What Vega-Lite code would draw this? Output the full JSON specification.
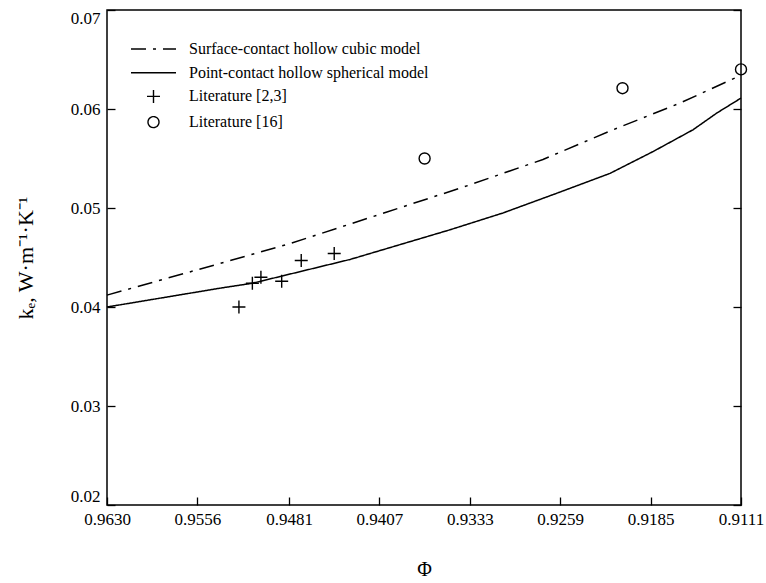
{
  "$schema": "https://vega.github.io/schema/vega-lite/v6.json",
  "width": 634,
  "height": 495,
  "autosize": {"type": "none"},
  "padding": {"left": 107, "top": 10, "right": 25, "bottom": 78},
  "background": "white",
  "config": {
    "font": "'Times New Roman', 'Liberation Serif', serif",
    "view": {"stroke": "black", "strokeWidth": 1.5},
    "axis": {
      "domain": false,
      "grid": false,
      "labelFont": "'Times New Roman', 'Liberation Serif', serif",
      "labelFontSize": 17,
      "labelColor": "black",
      "tickColor": "black",
      "tickWidth": 1.3,
      "titleFont": "'Times New Roman', 'Liberation Serif', serif",
      "titleFontWeight": "normal",
      "titleColor": "black",
      "titleFontSize": 20
    },
    "legend": {
      "title": null,
      "orient": "none",
      "legendX": 35.5,
      "legendY": 28,
      "symbolSize": 400,
      "symbolFillColor": "transparent",
      "symbolStrokeColor": "black",
      "symbolStrokeWidth": 1.4,
      "labelFont": "'Times New Roman', 'Liberation Serif', serif",
      "labelFontSize": 16,
      "labelColor": "black",
      "labelOffset": 24.5,
      "labelLimit": 400,
      "rowPadding": 4.7,
      "padding": 0
    }
  },
  "datasets": {
    "lines": [
      {"phi": 0.9630, "k": 0.0412, "series": "Surface-contact hollow cubic model"},
      {"phi": 0.95375, "k": 0.0444, "series": "Surface-contact hollow cubic model"},
      {"phi": 0.94802, "k": 0.0464, "series": "Surface-contact hollow cubic model"},
      {"phi": 0.94008, "k": 0.0496, "series": "Surface-contact hollow cubic model"},
      {"phi": 0.93386, "k": 0.0521, "series": "Surface-contact hollow cubic model"},
      {"phi": 0.92731, "k": 0.0549, "series": "Surface-contact hollow cubic model"},
      {"phi": 0.92158, "k": 0.0579, "series": "Surface-contact hollow cubic model"},
      {"phi": 0.91609, "k": 0.0606, "series": "Surface-contact hollow cubic model"},
      {"phi": 0.9120, "k": 0.0629, "series": "Surface-contact hollow cubic model"},
      {"phi": 0.9111, "k": 0.0634, "series": "Surface-contact hollow cubic model"},
      {"phi": 0.9630, "k": 0.0400, "series": "Point-contact hollow spherical model"},
      {"phi": 0.95375, "k": 0.0419, "series": "Point-contact hollow spherical model"},
      {"phi": 0.9511, "k": 0.0424, "series": "Point-contact hollow spherical model"},
      {"phi": 0.94311, "k": 0.0448, "series": "Point-contact hollow spherical model"},
      {"phi": 0.93492, "k": 0.0478, "series": "Point-contact hollow spherical model"},
      {"phi": 0.93058, "k": 0.0495, "series": "Point-contact hollow spherical model"},
      {"phi": 0.92616, "k": 0.0515, "series": "Point-contact hollow spherical model"},
      {"phi": 0.92182, "k": 0.0535, "series": "Point-contact hollow spherical model"},
      {"phi": 0.9183, "k": 0.0557, "series": "Point-contact hollow spherical model"},
      {"phi": 0.91503, "k": 0.0579, "series": "Point-contact hollow spherical model"},
      {"phi": 0.91307, "k": 0.0596, "series": "Point-contact hollow spherical model"},
      {"phi": 0.9111, "k": 0.0611, "series": "Point-contact hollow spherical model"}
    ],
    "points": [
      {"phi": 0.9522, "k": 0.0400, "series": "Literature [2,3]"},
      {"phi": 0.9511, "k": 0.0424, "series": "Literature [2,3]"},
      {"phi": 0.9504, "k": 0.0430, "series": "Literature [2,3]"},
      {"phi": 0.9487, "k": 0.0426, "series": "Literature [2,3]"},
      {"phi": 0.9471, "k": 0.0447, "series": "Literature [2,3]"},
      {"phi": 0.9444, "k": 0.0454, "series": "Literature [2,3]"},
      {"phi": 0.9370, "k": 0.0550, "series": "Literature [16]"},
      {"phi": 0.9208, "k": 0.0621, "series": "Literature [16]"},
      {"phi": 0.9111, "k": 0.0640, "series": "Literature [16]"}
    ]
  },
  "layer": [
    {
      "data": {"name": "lines"},
      "mark": {"type": "line", "color": "black", "strokeWidth": 1.5},
      "encoding": {
        "x": {
          "field": "phi", "type": "quantitative",
          "scale": {"domain": [0.9111, 0.9630], "reverse": true, "nice": false, "zero": false},
          "axis": {
            "title": "Φ",
            "values": [0.9630, 0.9556, 0.9481, 0.9407, 0.9333, 0.9259, 0.9185, 0.9111],
            "format": ".4f",
            "tickSize": -8,
            "labelPadding": 14,
            "titlePadding": 32,
            "labelFlush": false
          }
        },
        "y": {
          "field": "k", "type": "quantitative",
          "scale": {"domain": [0.02, 0.07], "nice": false, "zero": false},
          "axis": {
            "title": "kₑ, W·m⁻¹·K⁻¹",
            "titleFontSize": 22,
            "values": [0.02, 0.03, 0.04, 0.05, 0.06, 0.07],
            "format": ".2f",
            "tickSize": -8,
            "labelPadding": 15,
            "titlePadding": 33,
            "labelFlush": true,
            "labelFlushOffset": 0
          }
        },
        "strokeDash": {
          "field": "series", "type": "nominal",
          "scale": {
            "domain": ["Surface-contact hollow cubic model", "Point-contact hollow spherical model", "Literature [2,3]", "Literature [16]"],
            "range": [[15, 7, 3, 7], [1, 0], [1, 0], [1, 0]]
          }
        }
      }
    },
    {
      "data": {"name": "points"},
      "mark": {"type": "point", "filled": false, "color": "black", "strokeWidth": 1.4, "size": 400, "opacity": 1},
      "encoding": {
        "x": {"field": "phi", "type": "quantitative"},
        "y": {
          "field": "k", "type": "quantitative",
          "axis": {
            "orient": "right",
            "values": [0.02, 0.03, 0.04, 0.05, 0.06, 0.07],
            "labels": false,
            "title": null,
            "tickSize": -8
          }
        },
        "shape": {
          "field": "series", "type": "nominal",
          "scale": {
            "domain": ["Surface-contact hollow cubic model", "Point-contact hollow spherical model", "Literature [2,3]", "Literature [16]"],
            "range": ["M-2.25,0H2.25", "M-2.25,0H2.25", "M-0.65,0H0.65M0,-0.65V0.65", "M0.55,0A0.55,0.55,0,1,1,-0.55,0A0.55,0.55,0,1,1,0.55,0Z"]
          }
        }
      }
    }
  ],
  "resolve": {"axis": {"y": "independent"}}
}
